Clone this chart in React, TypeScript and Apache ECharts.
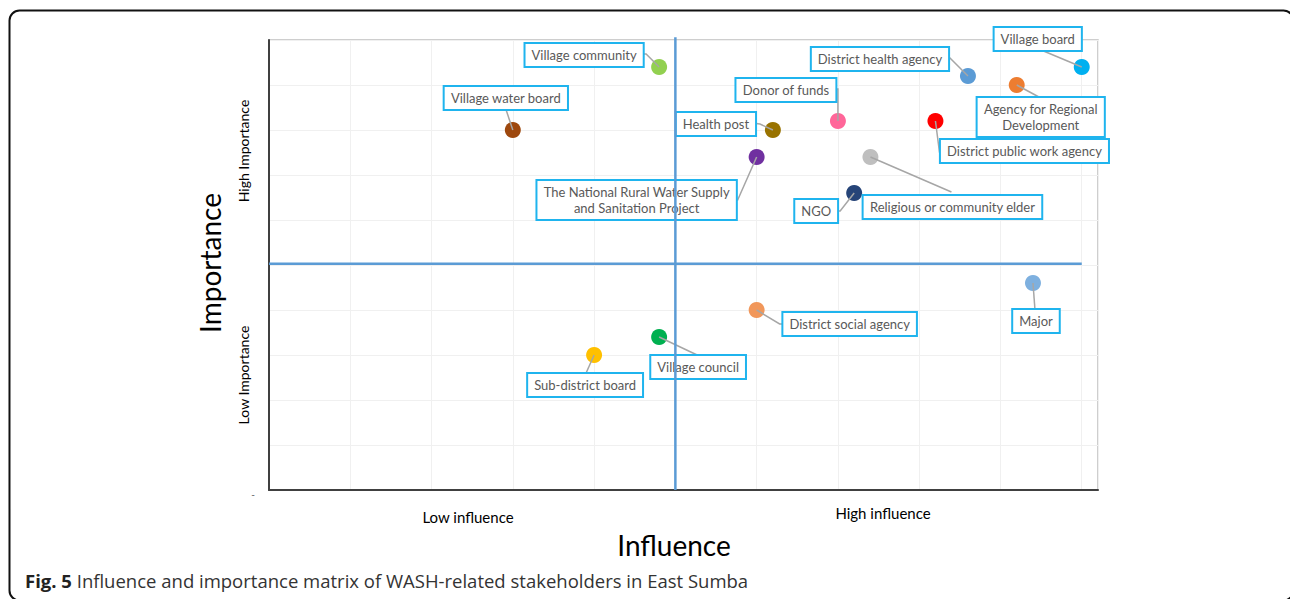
import React, { useEffect, useRef } from "react";
import * as echarts from "echarts";

// ---- data ----
const names = [
  "Village community",
  "Village water board",
  "Health post",
  "Donor of funds",
  "District health agency",
  "Village board",
  "Agency for Regional\nDevelopment",
  "District public work agency",
  "The National Rural Water Supply\nand Sanitation Project",
  "Religious or community elder",
  "NGO",
  "Major",
  "District social agency",
  "Village council",
  "Sub-district board",
];
const influence = [4.8, 3.0, 6.2, 7.0, 8.6, 10.0, 9.2, 8.2, 6.0, 7.4, 7.2, 9.4, 6.0, 4.8, 4.0];
const importance = [9.4, 8.0, 8.0, 8.2, 9.2, 9.4, 9.0, 8.2, 7.4, 7.4, 6.6, 4.6, 4.0, 3.4, 3.0];
const midInfluence = 5;
const midImportance = 5.03;
const xTickLabels = ["Low influence", "High influence"];
const yTickLabels = ["High Importance", "Low Importance"];

// ---- styling ----
const dotColors = [
  "#92D050", "#9E480E", "#997300", "#FF6699", "#5B9BD5",
  "#00B0F0", "#ED7D31", "#FF0000", "#7030A0", "#BFBFBF",
  "#264478", "#7EB0DF", "#F1975A", "#00B050", "#FFC000",
];
// label centre offsets from the dot (px)
const labelOffsets = [
  [-75, -12], [-7, -32], [-57, -6], [-52, -31], [-88, -17],
  [-44, -28], [24, 32], [89, 30], [-120, 43], [82, 50],
  [-38, 18], [3, 38], [93, 14], [39, 30], [-9, 30],
];
// leader line points relative to the dot (px), ending at the dot
const leaderPoints = [
  [[-19, -13], [-13, -13]],
  [[-7, -21]],
  [[-21, -7], [-13, -6]],
  [[-6, -32], [0, -32]],
  [[-24, -18], [-18, -18]],
  [[-43, -18]],
  [[24, 13]],
  [[10, 31], [4, 31]],
  [[-25, 43], [-19, 43]],
  [[81, 35]],
  [[-20, 18], [-14, 18]],
  [[2, 27]],
  [[29, 14], [23, 14]],
  [[38, 18]],
  [[-8, 18]],
];

export default function App() {
  const ref = useRef<HTMLDivElement>(null);
  useEffect(() => {
    if (!ref.current) return;
    const chart = echarts.init(ref.current, undefined, { renderer: "svg" });
    const pts = influence.map((x, i) => [x, importance[i], i]);
    chart.setOption({
      animation: false,
      grid: {
        left: 269,
        right: 192,
        top: 40,
        bottom: 109,
        show: true,
        borderColor: "#BFBFBF",
        borderWidth: 1.5,
        backgroundColor: "#fff",
      },
      xAxis: {
        type: "value",
        min: 0,
        max: 10.2,
        interval: 1,
        axisLine: { show: true, onZero: false, lineStyle: { color: "#404040", width: 2 } },
        axisTick: { show: false },
        axisLabel: { show: false },
        splitLine: { show: true, lineStyle: { color: "#F0F0F0", width: 1 } },
      },
      yAxis: {
        type: "value",
        min: 0,
        max: 10,
        interval: 1,
        axisLine: { show: true, onZero: false, lineStyle: { color: "#404040", width: 2 } },
        axisTick: { show: false },
        axisLabel: { show: false },
        splitLine: { show: true, lineStyle: { color: "#F0F0F0", width: 1 } },
      },
      series: [
        {
          type: "scatter",
          z: 2,
          symbolSize: 16,
          data: pts.map((p, i) => ({ value: p, itemStyle: { color: dotColors[i], opacity: 1 } })),
        },
        {
          type: "custom",
          z: 3,
          clip: false,
          data: pts,
          renderItem: (params: any, api: any) => {
            const i = params.dataIndex;
            const c = api.coord([api.value(0), api.value(1)]);
            const line = leaderPoints[i].map((p) => [c[0] + p[0], c[1] + p[1]]);
            line.push([c[0], c[1]]);
            const off = labelOffsets[i];
            return {
              type: "group",
              children: [
                {
                  type: "polyline",
                  shape: { points: line },
                  style: { stroke: "#A6A6A6", lineWidth: 1.5, fill: null },
                },
                {
                  type: "text",
                  x: c[0] + off[0],
                  y: c[1] + off[1],
                  style: {
                    text: names[i],
                    align: "center",
                    verticalAlign: "middle",
                    font: "13px Lato",
                    fill: "#595959",
                    backgroundColor: "#fff",
                    borderColor: "#1FB4EE",
                    borderWidth: 2,
                    padding: [3, 6],
                    lineHeight: 16,
                  },
                },
              ],
            };
          },
        },
        {
          type: "line",
          z: 5,
          clip: false,
          symbol: "none",
          lineStyle: { color: "#5B9BD5", width: 2.5 },
          data: [[0, midImportance], [10, midImportance]],
        },
        {
          type: "line",
          z: 5,
          clip: false,
          symbol: "none",
          lineStyle: { color: "#5B9BD5", width: 2.5 },
          data: [[midInfluence, 0], [midInfluence, 10.06]],
        },
      ],
      graphic: [
        {
          type: "rect",
          z: -10,
          shape: { x: 9.5, y: 10.5, width: 1284, height: 590, r: 10 },
          style: { fill: "none", stroke: "#111", lineWidth: 2 },
        },
        {
          type: "text",
          x: 210,
          y: 263,
          rotation: Math.PI / 2,
          style: { text: "Importance", align: "center", verticalAlign: "middle", font: "28px Lato", fill: "#000" },
        },
        {
          type: "text",
          x: 243,
          y: 151,
          rotation: Math.PI / 2,
          style: { text: yTickLabels[0], align: "center", verticalAlign: "middle", font: "14px Lato", fill: "#000" },
        },
        {
          type: "text",
          x: 243,
          y: 375,
          rotation: Math.PI / 2,
          style: { text: yTickLabels[1], align: "center", verticalAlign: "middle", font: "14px Lato", fill: "#000" },
        },
        {
          type: "text",
          x: 253,
          y: 494,
          style: { text: "-", align: "center", verticalAlign: "middle", font: "10px Lato", fill: "#555" },
        },
        {
          type: "text",
          x: 468,
          y: 517,
          style: { text: xTickLabels[0], align: "center", verticalAlign: "middle", font: "15px Lato", fill: "#000" },
        },
        {
          type: "text",
          x: 883,
          y: 513,
          style: { text: xTickLabels[1], align: "center", verticalAlign: "middle", font: "15px Lato", fill: "#000" },
        },
        {
          type: "text",
          x: 674,
          y: 545,
          style: { text: "Influence", align: "center", verticalAlign: "middle", font: "28px Lato", fill: "#000" },
        },
        {
          type: "text",
          x: 25,
          y: 580,
          style: {
            text: "{b|Fig. 5} Influence and importance matrix of WASH-related stakeholders in East Sumba",
            align: "left",
            verticalAlign: "middle",
            font: "18.5px 'Open Sans'",
            fill: "#333",
            rich: {
              b: { fontWeight: "bold", fontSize: 18.5, fontFamily: "Open Sans", fill: "#222" },
            },
          },
        },
      ],
    });
    return () => chart.dispose();
  }, []);
  return (
    <div
      ref={ref}
      style={{ position: "fixed", left: 0, top: 0, width: 1290, height: 599, background: "#fff" }}
    />
  );
}
